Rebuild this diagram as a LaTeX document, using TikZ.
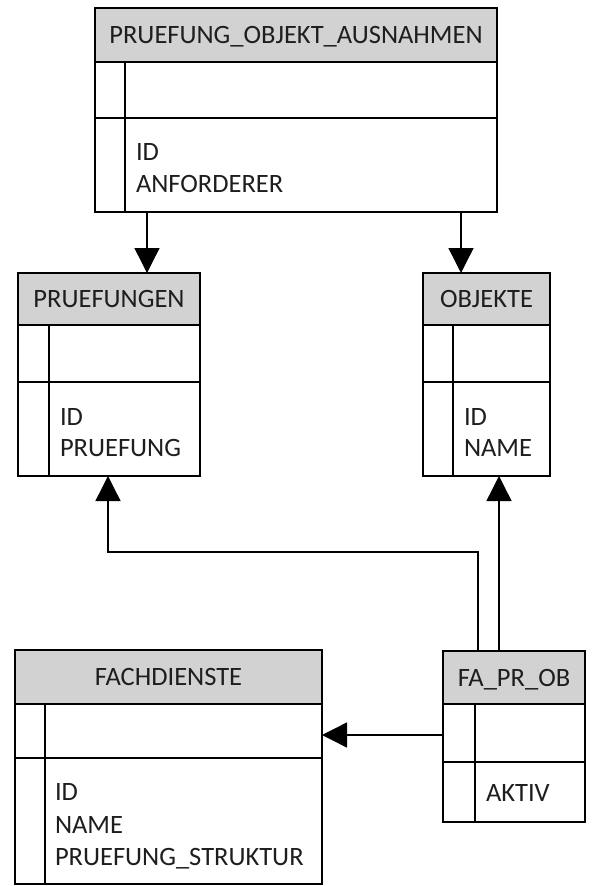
\documentclass[tikz,border=0pt]{standalone}
\usepackage{fontspec}
\setmainfont{Carlito}
\usepackage{tikz}
\usetikzlibrary{arrows.meta}
\usetikzlibrary{positioning}

\definecolor{headgray}{RGB}{210,210,210}
\definecolor{textgray}{RGB}{30,30,30}

\tikzset{
  entity/.style={draw, rectangle, line width=1.4pt, inner sep=0pt, outer sep=0pt},
  entityhead/.style={entity, fill=headgray, text=textgray, text height=17pt, text depth=0pt},
  field/.style={inner sep=0pt, outer sep=0pt, text=textgray, anchor=base west},
  fk/.style={line width=1.4pt, -{Triangle[length=25pt, width=25pt]}},
  every node/.style={font=\fontsize{26.5}{32}\selectfont}
}

\begin{document}
\begin{tikzpicture}[x=1pt, y=-1pt]
    \useasboundingbox (0, 0) rectangle (596, 886);

    % PRUEFUNG_OBJEKT_AUSNAHMEN
    \node [entityhead, minimum width=402pt, minimum height=54pt, anchor=north west] (poa) at (95, 8) {PRUEFUNG\_OBJEKT\_AUSNAHMEN};
    \node [entity, minimum width=402pt, minimum height=150pt, anchor=north west] (poa-body) at (poa.south west) {};
    \draw [line width=1.4pt] (95, 118) -- (497, 118);
    \draw [line width=1.4pt] (125, 62) -- (125, 212);
    \node [field] (poa-id) at (136, 160) {ID};
    \node [field] (poa-anf) at (136, 192) {ANFORDERER};

    % PRUEFUNGEN
    \node [entityhead, minimum width=182pt, minimum height=52pt, anchor=north west] (pruef) at (18, 273) {PRUEFUNGEN};
    \node [entity, minimum width=182pt, minimum height=151pt, anchor=north west] (pruef-body) at (pruef.south west) {};
    \draw [line width=1.4pt] (18, 382) -- (200, 382);
    \draw [line width=1.4pt] (49, 325) -- (49, 476);
    \node [field] (pruef-id) at (60, 425) {ID};
    \node [field] (pruef-pr) at (60, 456) {PRUEFUNG};

    % OBJEKTE
    \node [entityhead, minimum width=127pt, minimum height=52pt, anchor=north west] (obj) at (423, 273) {OBJEKTE};
    \node [entity, minimum width=127pt, minimum height=151pt, anchor=north west] (obj-body) at (obj.south west) {};
    \draw [line width=1.4pt] (423, 382) -- (550, 382);
    \draw [line width=1.4pt] (453, 325) -- (453, 476);
    \node [field] (obj-id) at (464, 425) {ID};
    \node [field] (obj-name) at (464, 456) {NAME};

    % FACHDIENSTE
    \node [entityhead, minimum width=307pt, minimum height=54pt, anchor=north west] (fach) at (15, 650) {FACHDIENSTE};
    \node [entity, minimum width=307pt, minimum height=180pt, anchor=north west] (fach-body) at (fach.south west) {};
    \draw [line width=1.4pt] (15, 758) -- (322, 758);
    \draw [line width=1.4pt] (45, 704) -- (45, 884);
    \node [field] (fach-id) at (55, 800) {ID};
    \node [field] (fach-name) at (55, 833) {NAME};
    \node [field] (fach-struk) at (55, 865) {PRUEFUNG\_STRUKTUR};

    % FA_PR_OB
    \node [entityhead, minimum width=142pt, minimum height=53pt, anchor=north west] (fpo) at (443, 651) {FA\_PR\_OB};
    \node [entity, minimum width=142pt, minimum height=118pt, anchor=north west] (fpo-body) at (fpo.south west) {};
    \draw [line width=1.4pt] (443, 762) -- (585, 762);
    \draw [line width=1.4pt] (475, 704) -- (475, 822);
    \node [field] (fpo-aktiv) at (486, 801) {AKTIV};

    % references
    \draw [fk] ([xshift=52pt]poa-body.south west) -- ([xshift=129pt]pruef.north west);
    \draw [fk] ([xshift=-36pt]poa-body.south east) -- ([xshift=38pt]obj.north west);
    \draw [fk] ([xshift=35pt]fpo.north west) -- ++(0, -99) -| ([xshift=90pt]pruef-body.south west);
    \draw [fk] ([xshift=56pt]fpo.north west) -- ([xshift=76pt]obj-body.south west);
    \draw [fk] (fpo-body.west |- 0, 735) -- (fach-body.east |- 0, 735);
  \end{tikzpicture}
\end{document}
